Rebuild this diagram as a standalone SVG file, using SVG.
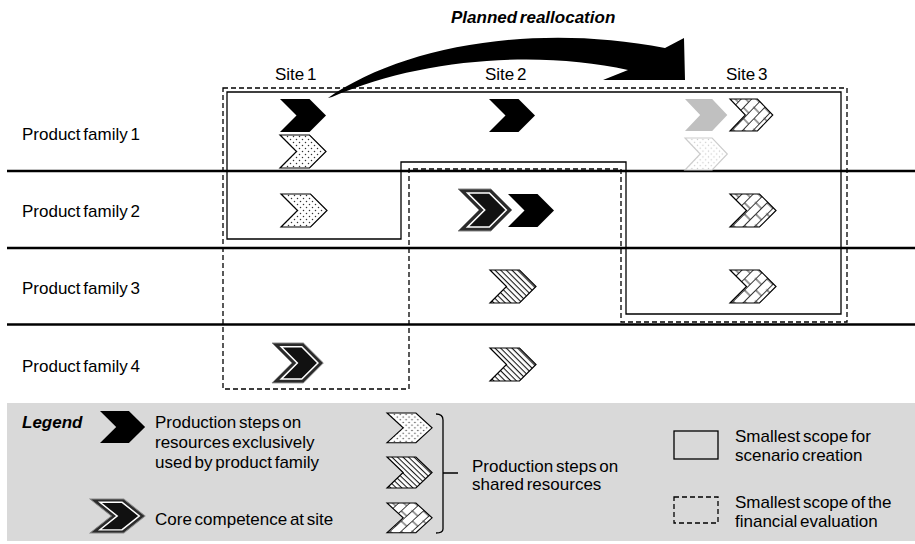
<svg xmlns="http://www.w3.org/2000/svg" xmlns:xlink="http://www.w3.org/1999/xlink" width="915" height="544" viewBox="0 0 915 544">
<style>
text{font-family:"Liberation Sans",Arial,sans-serif;font-size:17px;fill:#000;word-spacing:-2px}
.bi{font-weight:bold;font-style:italic}
.row{stroke:#000;stroke-width:2.5}
.solid{fill:none;stroke:#000;stroke-width:1.3}
.dash{fill:none;stroke:#000;stroke-width:1.3;stroke-dasharray:5 3}
.pat{stroke:#000;stroke-width:1.2}
</style>
<defs>
<pattern id="dots" width="6" height="6" patternUnits="userSpaceOnUse">
<rect width="6" height="6" fill="#fff"/>
<circle cx="1.5" cy="1.5" r="0.75" fill="#333"/>
<circle cx="4.5" cy="4.5" r="0.75" fill="#333"/>
</pattern>
<pattern id="dotsLight" width="6" height="6" patternUnits="userSpaceOnUse">
<rect width="6" height="6" fill="#fff"/>
<circle cx="1.5" cy="1.5" r="0.75" fill="#c8c8c8"/>
<circle cx="4.5" cy="4.5" r="0.75" fill="#c8c8c8"/>
</pattern>
<pattern id="stripes" width="4" height="4" patternUnits="userSpaceOnUse" patternTransform="rotate(45)">
<rect width="4" height="4" fill="#fff"/>
<line x1="0" y1="0.6" x2="4" y2="0.6" stroke="#000" stroke-width="1"/>
</pattern>
<pattern id="brick" width="16" height="16" patternUnits="userSpaceOnUse" patternTransform="rotate(-45)">
<rect width="16" height="16" fill="#fff"/>
<path d="M0,0.5 H16 M0,8.5 H16 M4,0.5 V8.5 M12,8.5 V16.5" stroke="#000" stroke-width="0.8" fill="none"/>
<circle cx="4" cy="0.5" r="1" fill="#444"/>
<circle cx="12" cy="8.5" r="1" fill="#444"/>
</pattern>
<path id="chev" d="M0,0 H29.5 L46,16.5 L29.5,33 H0 L16.5,16.5 Z"/>
<g id="core">
<path d="M0,0 H33 L54,21 L33,42 H0 L21,21 Z" fill="#2b2b2b" stroke="#888" stroke-width="1"/>
<path d="M9.66,4 H31.34 L48.34,21 L31.34,38 H9.66 L26.66,21 Z" fill="#111" stroke="#fff" stroke-width="1.6"/>
</g>
</defs>

<rect width="915" height="544" fill="#fff"/>

<g id="labels">
<text x="275" y="80">Site 1</text>
<text x="485" y="80">Site 2</text>
<text x="726" y="80">Site 3</text>
<text x="22" y="140">Product family 1</text>
<text x="22" y="217">Product family 2</text>
<text x="22" y="294">Product family 3</text>
<text x="22" y="372">Product family 4</text>
</g>

<g id="rows">
<line class="row" x1="7" y1="171" x2="915" y2="171"/>
<line class="row" x1="7" y1="248" x2="915" y2="248"/>
<line class="row" x1="7" y1="324.5" x2="915" y2="324.5"/>
</g>

<g id="scope-financial">
<polygon class="dash" points="223,88 847,88 847,322 621,322 621,169 409,169 409,389 223,389"/>
</g>
<g id="scope-scenario">
<polygon class="solid" points="227,92 841,92 841,314 626,314 626,162 401,162 401,239 227,239"/>
</g>

<g id="connectors">
<path d="M328,98 C400,48 530,22 665,48 L684,38 L685,80 L603,80 L628,70 C540,50 420,58 332,97 Z" fill="#000"/>
<text class="bi" x="451" y="23">Planned reallocation</text>
</g>

<g id="pf1-site1-excl"><use href="#chev" x="280" y="99" fill="#000"/></g>
<g id="pf1-site1-shared"><use href="#chev" x="280" y="135" fill="url(#dots)" class="pat"/></g>
<g id="pf1-site2-excl"><use href="#chev" x="489" y="99" fill="#000"/></g>
<g id="pf1-site3-moved"><use href="#chev" transform="translate(685,99) scale(0.92,0.97)" fill="#c0c0c0"/></g>
<g id="pf1-site3-moved-shared"><use href="#chev" transform="translate(685,138) scale(0.92,0.97)" fill="url(#dotsLight)" stroke="#ccc" stroke-width="1.2"/></g>
<g id="pf1-site3-shared"><use href="#chev" transform="translate(730,99) scale(0.93,0.97)" fill="url(#brick)" class="pat"/></g>

<g id="pf2-site1-shared"><use href="#chev" x="281" y="194" fill="url(#dots)" class="pat"/></g>
<g id="pf2-site2-core"><use href="#core" x="458" y="189"/></g>
<g id="pf2-site2-excl"><use href="#chev" x="508" y="194" fill="#000"/></g>
<g id="pf2-site3-shared"><use href="#chev" x="730" y="194" fill="url(#brick)" class="pat"/></g>

<g id="pf3-site2-shared"><use href="#chev" x="490" y="270" fill="url(#stripes)" class="pat"/></g>
<g id="pf3-site3-shared"><use href="#chev" x="730" y="270" fill="url(#brick)" class="pat"/></g>

<g id="pf4-site1-core"><use href="#core" transform="translate(272,343) scale(0.95,0.95)"/></g>
<g id="pf4-site2-shared"><use href="#chev" x="490" y="348" fill="url(#stripes)" class="pat"/></g>

<g id="legend">
<rect x="7" y="403" width="908" height="138" fill="#d9d9d9"/>
<text class="bi" x="22" y="428">Legend</text>
<use href="#chev" transform="translate(100,411) scale(0.98,0.97)" fill="#000"/>
<text x="155" y="428">Production steps on</text>
<text x="155" y="448">resources exclusively</text>
<text x="155" y="468">used by product family</text>
<use href="#core" transform="translate(90,499) scale(1.02,0.81)"/>
<text x="155" y="525">Core competence at site</text>
<use href="#chev" transform="translate(387,413) scale(0.98,0.9)" fill="url(#dots)" class="pat"/>
<use href="#chev" transform="translate(387,457) scale(0.98,0.94)" fill="url(#stripes)" class="pat"/>
<use href="#chev" transform="translate(387,503) scale(0.98,0.9)" fill="url(#brick)" class="pat"/>
<path d="M436,414 Q443,414 443,420 V529 Q443,533 436,533 M443,473 H458" fill="none" stroke="#000" stroke-width="1.3"/>
<text x="472" y="472">Production steps on</text>
<text x="472" y="490">shared resources</text>
<rect class="solid" x="674" y="431" width="44" height="28"/>
<text x="735" y="442">Smallest scope for</text>
<text x="735" y="461">scenario creation</text>
<rect class="dash" x="674" y="497" width="44" height="26"/>
<text x="735" y="508">Smallest scope of the</text>
<text x="735" y="527">financial evaluation</text>
</g>
</svg>
